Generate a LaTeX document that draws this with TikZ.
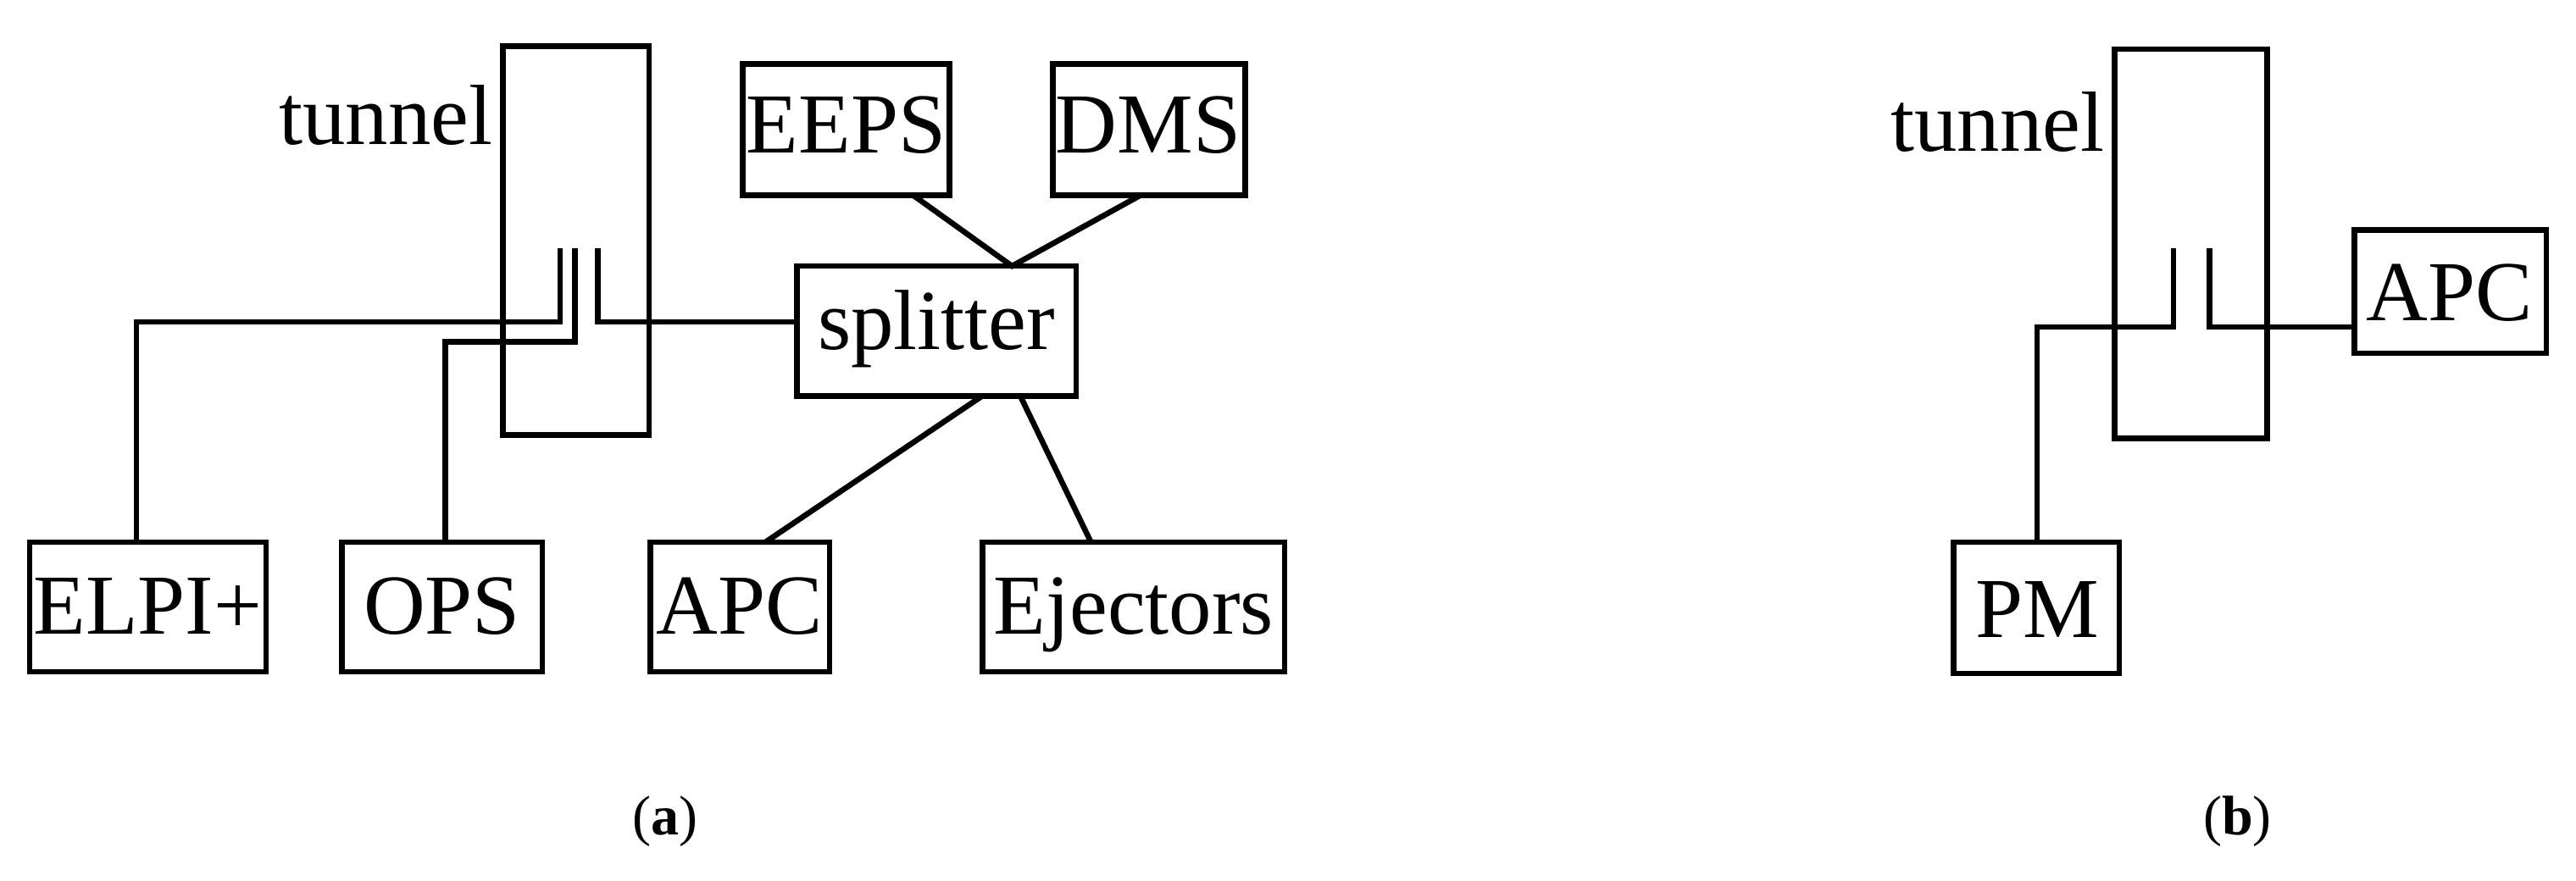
\documentclass[tikz,border=0pt]{standalone}
\usepackage{fontspec}
\setmainfont{Liberation Serif}
\begin{document}
\begin{tikzpicture}[x=1pt,y=-1pt,
  ln/.style={line width=3.4pt},
  bx/.style={draw,line width=3.4pt},
  lbl/.style={font=\fontsize{52}{56}\selectfont,inner sep=0pt,anchor=base}]
\useasboundingbox (0,0) rectangle (1568,536);
% (a)
\draw[bx] (306,28) rectangle (395,265);
\node[lbl,anchor=base east] (t1) at (300,88) {tunnel};
\draw[bx] (452,39) rectangle (578,119); \node[lbl] (eeps) at (515,93) {EEPS};
\draw[bx] (641,39) rectangle (758,119); \node[lbl] (dms) at (699,93) {DMS};
\draw[bx] (485,162) rectangle (655,241); \node[lbl] (spl) at (570,213) {splitter};
\draw[bx] (18,330) rectangle (162,409); \node[lbl] (elpi) at (90,386) {ELPI+};
\draw[bx] (208,330) rectangle (330,409); \node[lbl] (ops) at (269,386) {OPS};
\draw[bx] (396,330) rectangle (505,409); \node[lbl] (apc) at (450,386) {APC};
\draw[bx] (598,330) rectangle (782,409); \node[lbl] (ej) at (690,386) {Ejectors};
\coordinate (m) at (616,162);
\draw[ln] (556,119) -- (m) -- (694,119);
\draw[ln] (598,241) -- (466,330);
\draw[ln] (621,241) -- (664,330);
\draw[ln,line join=miter] (83,330) -- (83,196) -- (341,196) -- (341,151);
\draw[ln,line join=miter] (271,330) -- (271,208) -- (350,208) -- (350,151);
\draw[ln,line join=miter] (364,151) -- (364,196) -- (485,196);
\node[font=\fontsize{34}{38}\selectfont] (la) at (405,500) {(\textbf{a})};
% (b)
\draw[bx] (1287,30) rectangle (1380,267);
\node[lbl,anchor=base east] (t2) at (1281,92) {tunnel};
\draw[bx] (1433,140) rectangle (1550,215); \node[lbl] (apcb) at (1491,195) {APC};
\draw[bx] (1189,330) rectangle (1290,410); \node[lbl] (pm) at (1240,388) {PM};
\draw[ln,line join=miter] (1240,330) -- (1240,199) -- (1323,199) -- (1323,151);
\draw[ln,line join=miter] (1345,151) -- (1345,199) -- (1433,199);
\node[font=\fontsize{34}{38}\selectfont] (lb) at (1362,500) {(\textbf{b})};
\end{tikzpicture}
\end{document}
